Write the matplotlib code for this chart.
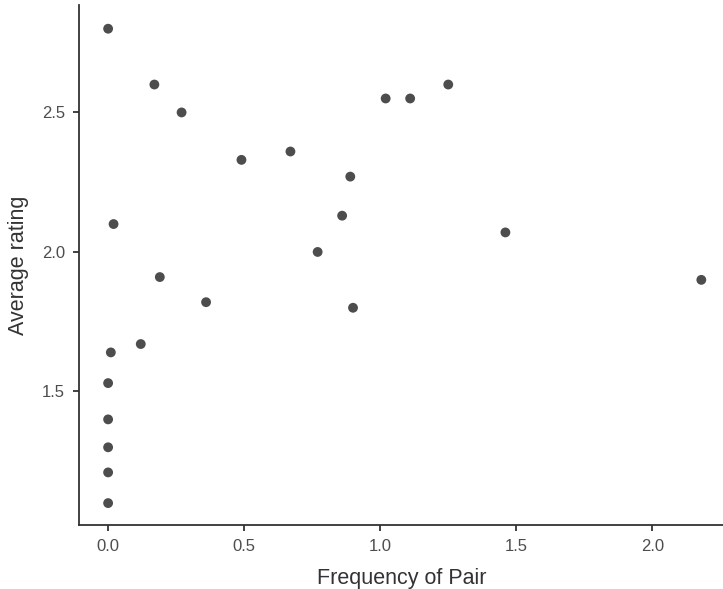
import matplotlib
matplotlib.use("Agg")
import matplotlib.pyplot as plt

freq = [0.0, 0.17, 0.27, 0.49, 0.67, 0.89, 0.86, 1.02, 1.11, 1.25, 0.02, 0.77,
        1.46, 2.18, 0.19, 0.36, 0.90, 0.12, 0.01, 0.0, 0.0, 0.0, 0.0, 0.0]
rating = [2.80, 2.60, 2.50, 2.33, 2.36, 2.27, 2.13, 2.55, 2.55, 2.60, 2.10, 2.00,
          2.07, 1.90, 1.91, 1.82, 1.80, 1.67, 1.64, 1.53, 1.40, 1.30, 1.21, 1.10]
xticks = [0.0, 0.5, 1.0, 1.5, 2.0]
yticks = [1.5, 2.0, 2.5]

plt.rcParams['font.family'] = ['Liberation Sans', 'DejaVu Sans']
fig = plt.figure(figsize=(7.23, 5.89), dpi=100)
ax = fig.add_axes([79/723, 64/589, 1 - 79/723 + 0.002, (525-5)/589])
ax.scatter(freq, rating, s=50, color='#4d4d4d', edgecolors='none', zorder=3)
ax.set_xlim(-0.107, 2.265)
ax.set_ylim(1.0215, 2.885)
ax.set_xticks(xticks)
ax.set_xticklabels([f"{v:.1f}" for v in xticks])
ax.set_yticks(yticks)
ax.set_yticklabels([f"{v:.1f}" for v in yticks])
for s in ['top', 'right']:
    ax.spines[s].set_visible(False)
for s in ['left', 'bottom']:
    ax.spines[s].set_color('#333333')
    ax.spines[s].set_linewidth(1.3)
ax.tick_params(axis='both', colors='#333333', labelcolor='#4d4d4d', labelsize=12,
               length=4, width=1.3, pad=6)
ax.set_xlabel('Frequency of Pair', fontsize=15.5, color='#333333', labelpad=10)
ax.set_ylabel('Average rating', fontsize=15.5, color='#333333', labelpad=9)
fig.savefig('out.png', dpi=100, facecolor='white')
